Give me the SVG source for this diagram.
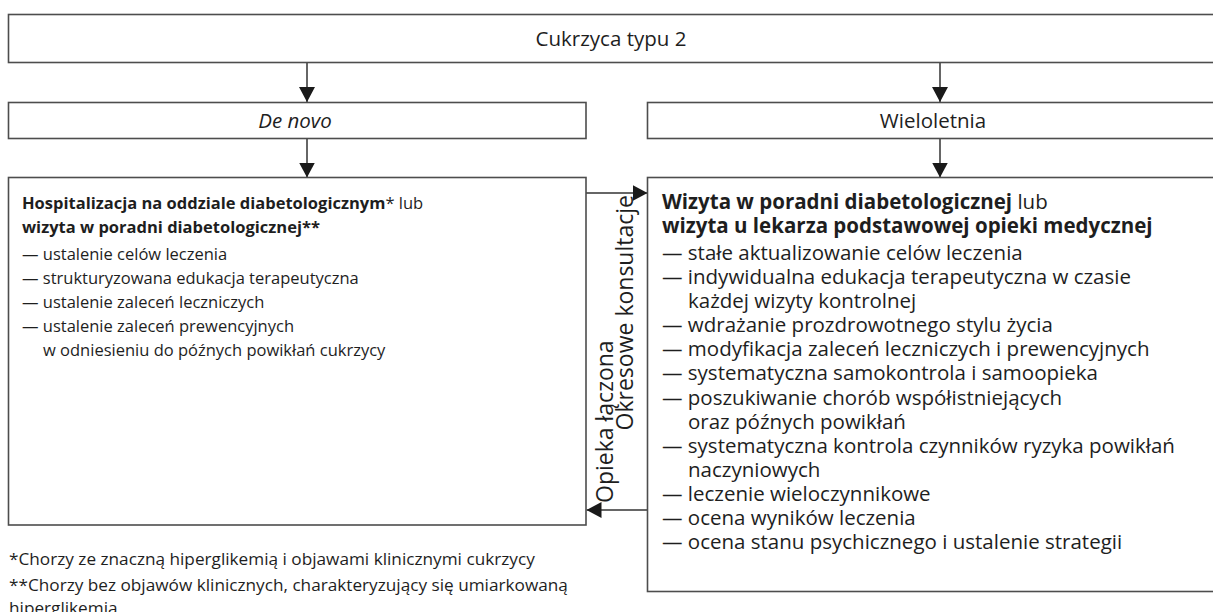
<svg xmlns="http://www.w3.org/2000/svg" width="1213" height="612" viewBox="0 0 1213 612">
<defs>
<style>
.box{fill:#fff;stroke:#4d4d4d;stroke-width:1.6}
.t{font-family:"Open Sans","Noto Sans","DejaVu Sans",sans-serif;font-size:20.5px;fill:#1e1e1e}
.s{font-family:"Open Sans","Noto Sans","DejaVu Sans",sans-serif;font-size:16.5px;fill:#1e1e1e}
.c{text-anchor:middle}
.b{font-weight:bold}
.fn{font-family:"Open Sans","Noto Sans","DejaVu Sans",sans-serif;font-size:17.2px;fill:#1e1e1e}
.rt{font-family:"Open Sans","Noto Sans","DejaVu Sans",sans-serif;font-size:23px;fill:#1e1e1e}
.ln{stroke:#333;stroke-width:1.5;fill:none}
</style>
<marker id="ah" markerWidth="15" markerHeight="16" refX="15" refY="8" orient="auto" markerUnits="userSpaceOnUse">
<path d="M0,0 L15,8 L0,16 Z" fill="#1a1a1a"/>
</marker>
</defs>
<rect width="1213" height="612" fill="#fff"/>

<g id="connectors">
<line class="ln" x1="307" y1="63" x2="307" y2="102" marker-end="url(#ah)"/>
<line class="ln" x1="940" y1="63" x2="940" y2="102" marker-end="url(#ah)"/>
<line class="ln" x1="307" y1="138" x2="307" y2="177.5" marker-end="url(#ah)"/>
<line class="ln" x1="940" y1="138" x2="940" y2="177.5" marker-end="url(#ah)"/>
<line class="ln" x1="586" y1="193" x2="647.5" y2="193" marker-end="url(#ah)"/>
<line class="ln" x1="647.5" y1="510" x2="586.5" y2="510" marker-end="url(#ah)"/>
<text class="rt" transform="translate(613,503) rotate(-90)">Opieka łączona</text>
<text class="rt" text-anchor="end" transform="translate(633,195) rotate(-90)">Okresowe konsultacje</text>
</g>

<g id="n-cukrzyca">
<rect class="box" x="8.5" y="14.5" width="1220" height="48"/>
<text class="t c" x="611" y="46">Cukrzyca typu 2</text>
</g>

<g id="n-denovo">
<rect class="box" x="8.5" y="102.5" width="577.5" height="36"/>
<text class="t c" x="295" y="128" font-style="italic">De novo</text>
</g>

<g id="n-wieloletnia">
<rect class="box" x="647.5" y="102.5" width="580" height="36"/>
<text class="t c" x="933" y="128">Wieloletnia</text>
</g>

<g id="n-hospitalizacja">
<rect class="box" x="8.5" y="177.5" width="577.5" height="347.5"/>
<text class="s" x="22" y="209"><tspan class="b">Hospitalizacja na oddziale diabetologicznym</tspan>* lub</text>
<text class="s b" x="22" y="233">wizyta w poradni diabetologicznej**</text>
<text class="s" x="22" y="260">— ustalenie celów leczenia</text>
<text class="s" x="22" y="284">— strukturyzowana edukacja terapeutyczna</text>
<text class="s" x="22" y="308">— ustalenie zaleceń leczniczych</text>
<text class="s" x="22" y="332">— ustalenie zaleceń prewencyjnych</text>
<text class="s" x="43" y="356">w odniesieniu do późnych powikłań cukrzycy</text>
</g>

<g id="n-wizyta">
<rect class="box" x="647.5" y="177.5" width="580" height="414"/>
<text class="t" x="662" y="209"><tspan class="b">Wizyta w poradni diabetologicznej</tspan> lub</text>
<text class="t b" x="662" y="233">wizyta u lekarza podstawowej opieki medycznej</text>
<text class="t" x="662" y="260">— stałe aktualizowanie celów leczenia</text>
<text class="t" x="662" y="284">— indywidualna edukacja terapeutyczna w czasie</text>
<text class="t" x="688" y="308">każdej wizyty kontrolnej</text>
<text class="t" x="662" y="332">— wdrażanie prozdrowotnego stylu życia</text>
<text class="t" x="662" y="356">— modyfikacja zaleceń leczniczych i prewencyjnych</text>
<text class="t" x="662" y="380">— systematyczna samokontrola i samoopieka</text>
<text class="t" x="662" y="405">— poszukiwanie chorób współistniejących</text>
<text class="t" x="688" y="429">oraz późnych powikłań</text>
<text class="t" x="662" y="453">— systematyczna kontrola czynników ryzyka powikłań</text>
<text class="t" x="688" y="477">naczyniowych</text>
<text class="t" x="662" y="501">— leczenie wieloczynnikowe</text>
<text class="t" x="662" y="525">— ocena wyników leczenia</text>
<text class="t" x="662" y="549">— ocena stanu psychicznego i ustalenie strategii</text>
</g>

<g id="footnotes">
<text class="fn" x="9" y="565">*Chorzy ze znaczną hiperglikemią i objawami klinicznymi cukrzycy</text>
<text class="fn" x="9" y="591">**Chorzy bez objawów klinicznych, charakteryzujący się umiarkowaną</text>
<text class="fn" x="9" y="614">hiperglikemią</text>
</g>
</svg>
